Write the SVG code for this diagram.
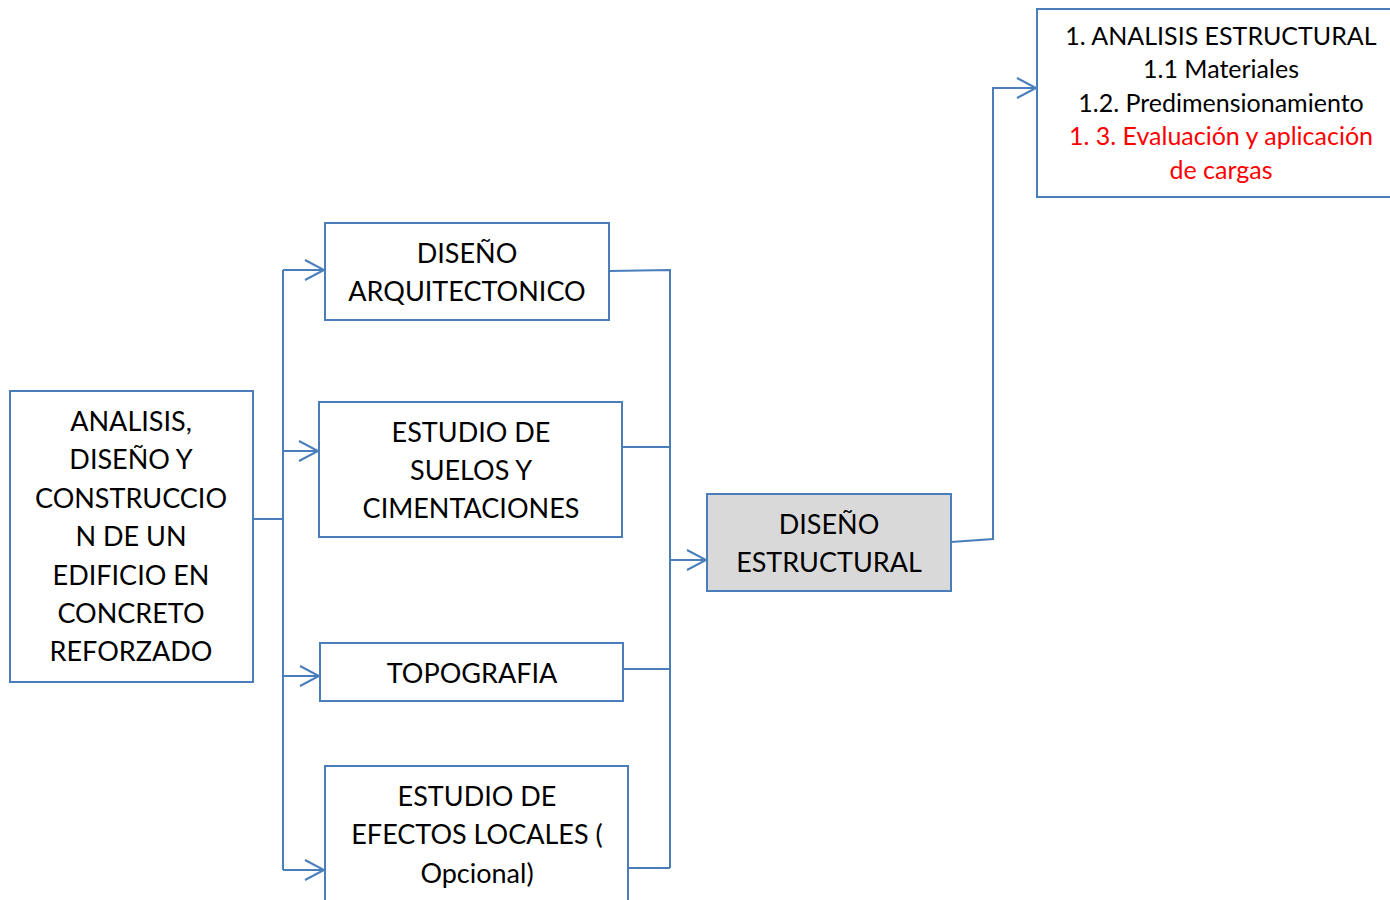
<svg xmlns="http://www.w3.org/2000/svg" width="1390" height="900" viewBox="0 0 1390 900">
<defs>
<style>
.box{fill:#fff;stroke:#4a7ebb;stroke-width:2}
.grey{fill:#d9d9d9;stroke:#4a7ebb;stroke-width:2}
.t{font-family:Lato,"Open Sans",sans-serif;font-size:27px;fill:#000;text-anchor:middle}
.s{font-family:Lato,"Open Sans",sans-serif;font-size:25px;fill:#000;text-anchor:middle}
.red{fill:#ff0000}
.c{fill:none;stroke:#4a7ebb;stroke-width:2}
</style>
<marker id="arr" markerWidth="24" markerHeight="24" refX="21" refY="11" orient="auto" markerUnits="userSpaceOnUse">
<path d="M2,1 L21,11 L2,21" fill="none" stroke="#4a7ebb" stroke-width="2"/>
</marker>
</defs>
<rect width="1390" height="900" fill="#fff"/>
<g id="connectors">
<path class="c" d="M253,519 H283"/>
<path class="c" d="M283,270 V870"/>
<path class="c" d="M283,270 H324" marker-end="url(#arr)"/>
<path class="c" d="M283,451 H318" marker-end="url(#arr)"/>
<path class="c" d="M283,676 H319" marker-end="url(#arr)"/>
<path class="c" d="M283,870 H324" marker-end="url(#arr)"/>
<path class="c" d="M609,271 L670,270 V868"/>
<path class="c" d="M622,447 H670"/>
<path class="c" d="M621,669 H670"/>
<path class="c" d="M628,868 H670"/>
<path class="c" d="M670,560 H706" marker-end="url(#arr)"/>
<path class="c" d="M951,542 L993,539 V88 H1036" marker-end="url(#arr)"/>
</g>
<g id="n-main">
<rect class="box" x="10" y="391" width="243" height="291"/>
<text class="t" x="131" y="431">ANALISIS,</text>
<text class="t" x="131" y="469">DISEÑO Y</text>
<text class="t" x="131" y="508">CONSTRUCCIO</text>
<text class="t" x="131" y="546">N DE UN</text>
<text class="t" x="131" y="585">EDIFICIO EN</text>
<text class="t" x="131" y="623">CONCRETO</text>
<text class="t" x="131" y="661">REFORZADO</text>
</g>
<g id="n-arq">
<rect class="box" x="325" y="223" width="284" height="97"/>
<text class="t" x="467" y="263">DISEÑO</text>
<text class="t" x="467" y="301">ARQUITECTONICO</text>
</g>
<g id="n-suelos">
<rect class="box" x="319" y="402" width="303" height="135"/>
<text class="t" x="471" y="442">ESTUDIO DE</text>
<text class="t" x="471" y="480">SUELOS Y</text>
<text class="t" x="471" y="518">CIMENTACIONES</text>
</g>
<g id="n-topo">
<rect class="box" x="320" y="643" width="303" height="58"/>
<text class="t" x="472" y="683">TOPOGRAFIA</text>
</g>
<g id="n-efectos">
<rect class="box" x="325" y="766" width="303" height="150"/>
<text class="t" x="477" y="806">ESTUDIO DE</text>
<text class="t" x="477" y="844">EFECTOS LOCALES (</text>
<text class="t" x="477" y="883">Opcional)</text>
</g>
<g id="n-estructural">
<rect class="grey" x="707" y="494" width="244" height="97"/>
<text class="t" x="829" y="534">DISEÑO</text>
<text class="t" x="829" y="572">ESTRUCTURAL</text>
</g>
<g id="n-analisis">
<rect class="box" x="1037" y="9" width="360" height="188"/>
<text class="s" x="1221" y="45">1. ANALISIS ESTRUCTURAL</text>
<text class="s" x="1221" y="78">1.1 Materiales</text>
<text class="s" x="1221" y="112">1.2. Predimensionamiento</text>
<text class="s red" x="1221" y="145">1. 3. Evaluación y aplicación</text>
<text class="s red" x="1221" y="179">de cargas</text>
</g>
</svg>
